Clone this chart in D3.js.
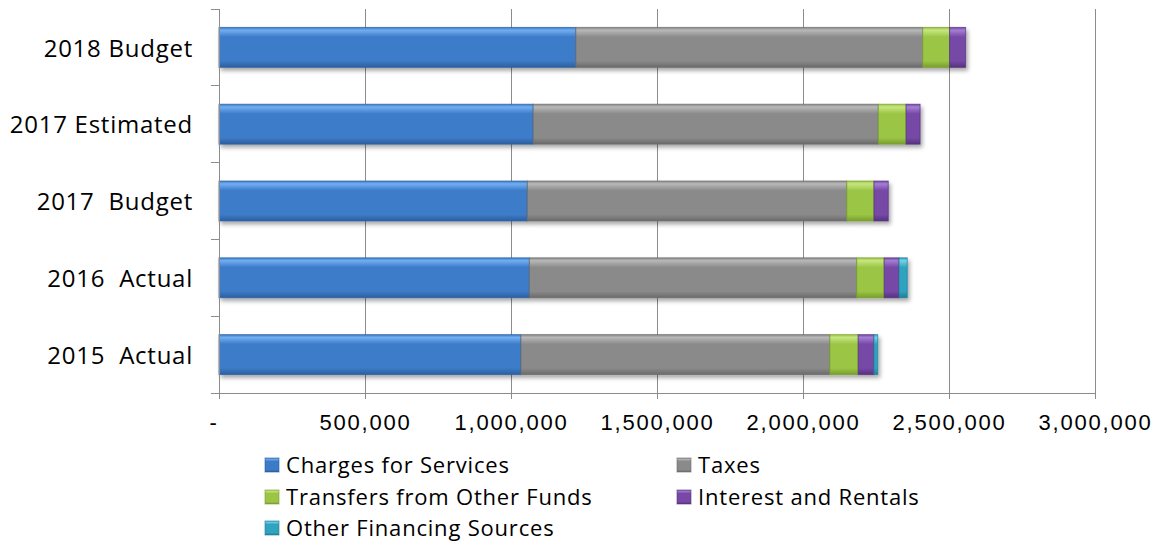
<!DOCTYPE html>
<html>
<head>
<meta charset="utf-8">
<script src="https://cdn.jsdelivr.net/npm/d3@7"></script>
<style>
  html, body { margin: 0; padding: 0; background: #fff; }
  svg { display: block; font-family: "Open Sans", "Noto Sans", sans-serif; }
  text { white-space: pre; fill: #000; }
</style>
</head>
<body>
<svg id="chart" width="1159" height="545"></svg>
<script>
const categories = ["2018 Budget", "2017 Estimated", "2017  Budget", "2016  Actual", "2015  Actual"];
const seriesNames = ["Charges for Services", "Taxes", "Transfers from Other Funds", "Interest and Rentals", "Other Financing Sources"];
const chargesForServices = [1222000, 1076000, 1056000, 1063000, 1034000];
const taxes = [1188000, 1182000, 1094000, 1121000, 1058000];
const transfers = [92000, 95000, 93000, 94000, 97000];
const interestRentals = [55000, 48000, 49000, 51000, 54000];
const otherFinancing = [0, 0, 0, 28000, 13000];
const xTicks = [0, 500000, 1000000, 1500000, 2000000, 2500000, 3000000];
const xTickLabels = ["-", "500,000", "1,000,000", "1,500,000", "2,000,000", "2,500,000", "3,000,000"];

const seriesValues = [chargesForServices, taxes, transfers, interestRentals, otherFinancing];
const colors = [
  { base: "#3c7bc8", light: "#72aef2", dark: "#2c5f9e" },
  { base: "#8a8a8a", light: "#b8b8b8", dark: "#6a6a6a" },
  { base: "#9bc545", light: "#c6e680", dark: "#789e2e" },
  { base: "#7748a6", light: "#a47fd4", dark: "#54327e" },
  { base: "#2fa3c0", light: "#74d3e8", dark: "#207d95" }
];

const svg = d3.select("#chart");
const defs = svg.append("defs");

colors.forEach((c, i) => {
  const g = defs.append("linearGradient").attr("id", "grad" + i)
    .attr("x1", 0).attr("y1", 0).attr("x2", 0).attr("y2", 1);
  g.append("stop").attr("offset", "0%").attr("stop-color", c.base);
  g.append("stop").attr("offset", "7%").attr("stop-color", c.light);
  g.append("stop").attr("offset", "24%").attr("stop-color", c.base);
  g.append("stop").attr("offset", "84%").attr("stop-color", c.base);
  g.append("stop").attr("offset", "100%").attr("stop-color", c.dark);
});

const shadow = defs.append("filter").attr("id", "shadow")
  .attr("x", "-5%").attr("y", "-20%").attr("width", "115%").attr("height", "160%");
shadow.append("feGaussianBlur").attr("in", "SourceAlpha").attr("stdDeviation", 2);
shadow.append("feOffset").attr("dx", 2).attr("dy", 3).attr("result", "ob");
shadow.append("feComponentTransfer").append("feFuncA").attr("type", "linear").attr("slope", 0.35);
const merge = shadow.append("feMerge");
merge.append("feMergeNode");
merge.append("feMergeNode").attr("in", "SourceGraphic");

const x = d3.scaleLinear().domain([0, 3000000]).range([219, 1095]);
const y = d3.scaleBand().domain(categories).range([9, 393]).paddingInner(0.48).paddingOuter(0.24);

const gridColor = "#8c8c8c";

// gridlines
svg.append("g").selectAll("line").data(xTicks.slice(1)).join("line")
  .attr("x1", d => x(d)).attr("x2", d => x(d))
  .attr("y1", 9).attr("y2", 393)
  .attr("stroke", gridColor).attr("stroke-width", 1).attr("shape-rendering", "crispEdges");

// stacked data
const rows = categories.map((c, i) => {
  const r = { cat: c };
  seriesNames.forEach((s, j) => r[s] = seriesValues[j][i]);
  return r;
});
const stack = d3.stack().keys(seriesNames);
const stacked = stack(rows);

const barsG = svg.append("g").attr("filter", "url(#shadow)");
stacked.forEach((layer, j) => {
  barsG.append("g").selectAll("rect").data(layer.filter(d => d[1] - d[0] > 0)).join("rect")
    .attr("x", d => x(d[0]))
    .attr("y", d => y(d.data.cat))
    .attr("width", d => x(d[1]) - x(d[0]))
    .attr("height", y.bandwidth())
    .attr("fill", "url(#grad" + j + ")")
    .attr("stroke", colors[j].dark)
    .attr("stroke-width", 1)
    .attr("stroke-opacity", 0.7);
});

// x axis
const xAxis = d3.axisBottom(x).tickValues(xTicks).tickSize(6)
  .tickFormat((d, i) => xTickLabels[i]);
const xg = svg.append("g").attr("transform", "translate(0,393)").call(xAxis);
xg.select(".domain").attr("stroke", gridColor).attr("d", "M219,0.5H1095");
xg.selectAll(".tick line").attr("stroke", gridColor);
xg.selectAll(".tick text")
  .attr("y", 37)
  .attr("dy", 0)
  .attr("font-size", 22)
  .attr("letter-spacing", 1.8)
  .attr("fill", "#000");
xg.selectAll(".tick text").filter((d, i) => i === 0).attr("text-anchor", "start").attr("dx", -10);

// y axis
const yAxisG = svg.append("g");
yAxisG.append("line").attr("x1", 219).attr("x2", 219).attr("y1", 9).attr("y2", 393)
  .attr("stroke", gridColor).attr("shape-rendering", "crispEdges");
const boundaries = categories.map(c => y(c) - y.step() * y.paddingInner() / 2);
boundaries[0] = 9;
boundaries.push(393);
yAxisG.selectAll("line.tk").data(boundaries).join("line").attr("class", "tk")
  .attr("x1", 211).attr("x2", 219).attr("y1", d => d).attr("y2", d => d)
  .attr("stroke", gridColor).attr("shape-rendering", "crispEdges");
yAxisG.selectAll("text").data(categories).join("text")
  .attr("x", 193).attr("y", d => y(d) + y.bandwidth() / 2)
  .attr("dy", "0.38em")
  .attr("text-anchor", "end")
  .attr("font-size", 24)
  .attr("letter-spacing", 0.75)
  .text(d => d);

// legend
const legendPos = [
  { x: 265, y: 465 }, { x: 677, y: 465 },
  { x: 265, y: 497 }, { x: 677, y: 497 },
  { x: 265, y: 528 }
];
const lg = svg.append("g");
seriesNames.forEach((s, j) => {
  const p = legendPos[j];
  lg.append("rect").attr("x", p.x).attr("y", p.y - 7).attr("width", 14).attr("height", 14)
    .attr("fill", "url(#grad" + j + ")").attr("stroke", colors[j].dark).attr("stroke-opacity", 0.6);
  lg.append("text").attr("x", p.x + 21).attr("y", p.y).attr("dy", "0.36em")
    .attr("font-size", 22).attr("letter-spacing", 0.8).text(s);
});
</script>
</body>
</html>
